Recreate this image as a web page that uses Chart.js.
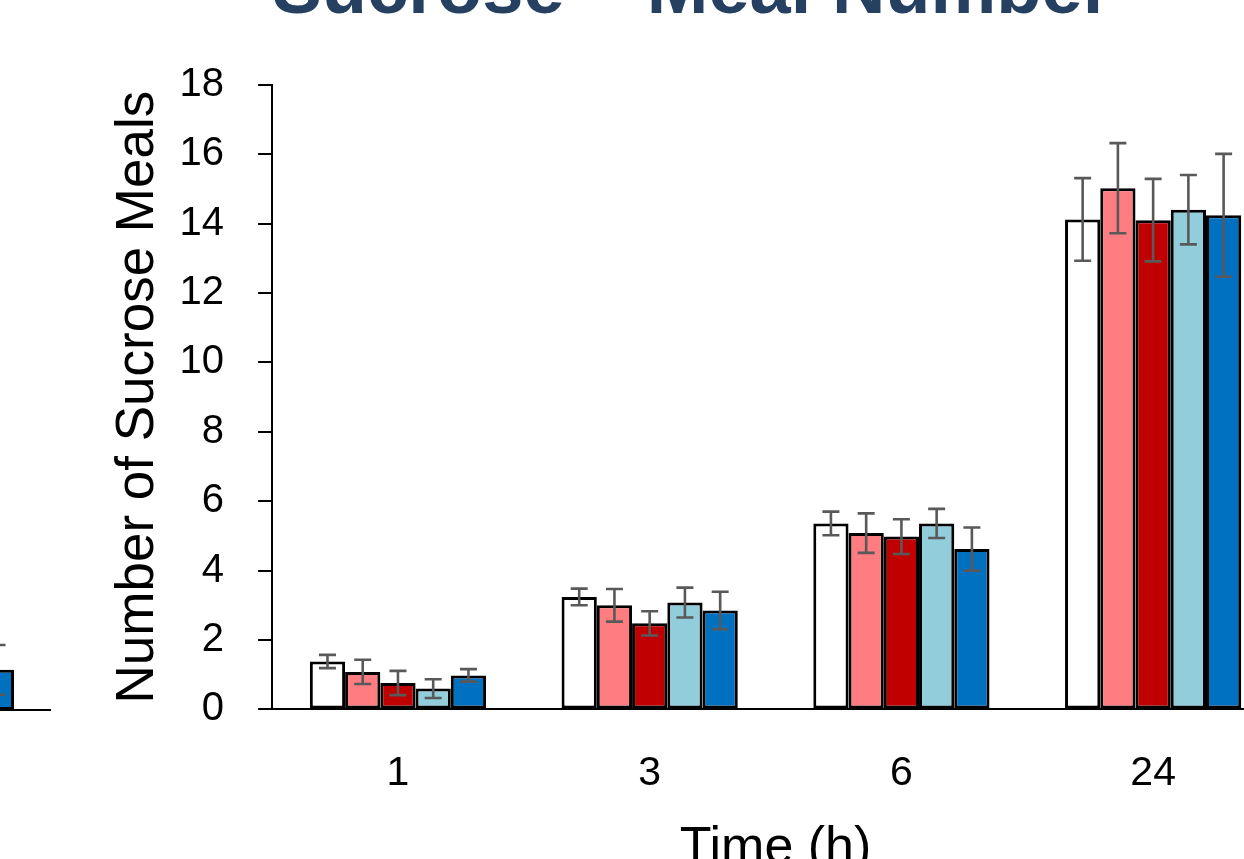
<!DOCTYPE html>
<html>
<head>
<meta charset="utf-8">
<script src="https://cdn.jsdelivr.net/npm/chart.js@4.4.1/dist/chart.umd.min.js"></script>
<style>
    html, body { margin: 0; padding: 0; background: #fff; overflow: hidden; width: 1244px; height: 859px; }
    #mainBox { position: absolute; left: 0; top: -70px; }
    #sideBox { position: absolute; left: -57px; top: 87px; }
</style>
</head>
<body>
<div id="sideBox"><canvas id="charSide" width="108" height="625"></canvas></div>
<div id="mainBox"><canvas id="charMeals" width="1320" height="1000"></canvas></div>
<script>
const categories = ['1', '3', '6', '24'];
const seriesNames = ['Series 1', 'Series 2', 'Series 3', 'Series 4', 'Series 5'];
const seriesColors = ['#FFFFFF', '#FF7C80', '#C00000', '#92CDDC', '#0070C0'];

const mealsS1 = [1.38, 3.24, 5.36, 14.12];
const mealsS2 = [1.08, 3.0, 5.08, 15.02];
const mealsS3 = [0.76, 2.48, 4.98, 14.1];
const mealsS4 = [0.6, 3.08, 5.36, 14.4];
const mealsS5 = [0.98, 2.85, 4.62, 14.24];

const errS1 = [0.19, 0.24, 0.34, 1.19];
const errS2 = [0.35, 0.47, 0.57, 1.3];
const errS3 = [0.35, 0.35, 0.5, 1.19];
const errS4 = [0.27, 0.43, 0.42, 1.0];
const errS5 = [0.18, 0.54, 0.62, 1.77];

const yTicks = [0, 2, 4, 6, 8, 10, 12, 14, 16, 18];

// tail of the neighbouring panel, only its last bar shows
const sideCategories = ['24'];
const sideValues = [1.16];
const sideErrors = [0.72];

const FONT = '"Liberation Sans", Arial, sans-serif';

const errorBars = {
    id: 'errorBars',
    afterDatasetsDraw(chart) {
        const ctx = chart.ctx;
        const y = chart.scales.y;
        ctx.save();
        ctx.strokeStyle = '#595959';
        ctx.lineWidth = 2.6;
        chart.data.datasets.forEach((ds, i) => {
            const meta = chart.getDatasetMeta(i);
            meta.data.forEach((bar, j) => {
                const v = ds.data[j];
                const e = ds.errors[j];
                const top = y.getPixelForValue(v + e);
                const bot = y.getPixelForValue(v - e);
                const cap = 8.5;
                ctx.beginPath();
                ctx.moveTo(bar.x, top);
                ctx.lineTo(bar.x, bot);
                ctx.moveTo(bar.x - cap, top);
                ctx.lineTo(bar.x + cap, top);
                ctx.moveTo(bar.x - cap, bot);
                ctx.lineTo(bar.x + cap, bot);
                ctx.stroke();
            });
        });
        ctx.restore();
    }
};

const allValues = [mealsS1, mealsS2, mealsS3, mealsS4, mealsS5];
const allErrors = [errS1, errS2, errS3, errS4, errS5];

const datasets = allValues.map((vals, i) => {
    return {
        label: seriesNames[i],
        data: vals,
        errors: allErrors[i],
        backgroundColor: seriesColors[i],
        borderColor: '#000000',
        borderWidth: 3,
        borderSkipped: false,
        barPercentage: 1.0,
        categoryPercentage: 0.7
    };
});

const ctxMeals = document.getElementById('charMeals');
const charMeals = new Chart(ctxMeals, {
    type: 'bar',
    data: {
        labels: categories,
        datasets: datasets
    },
    plugins: [errorBars],
    options: {
        responsive: false,
        animation: false,
        layout: {
            padding: { left: 105, right: 41, top: 18, bottom: 50 }
        },
        plugins: {
            legend: { display: false },
            tooltip: { enabled: false },
            title: {
                display: true,
                text: 'Sucrose – Meal Number',
                color: '#254061',
                font: { family: FONT, size: 74, weight: 'bold', lineHeight: 1.2 },
                padding: { top: 0, bottom: 48 }
            }
        },
        scales: {
            x: {
                grid: { display: false, drawTicks: false },
                border: { display: true, color: '#000000', width: 2 },
                ticks: {
                    color: '#000000',
                    padding: 40,
                    font: { family: FONT, size: 41 }
                },
                title: {
                    display: true,
                    text: 'Time (h)',
                    color: '#000000',
                    font: { family: FONT, size: 52 },
                    padding: { top: -21, bottom: 0 }
                }
            },
            y: {
                min: 0,
                max: 18,
                afterBuildTicks: (scale) => {
                    scale.ticks = yTicks.map(v => ({ value: v }));
                },
                grid: {
                    drawOnChartArea: false,
                    drawTicks: true,
                    tickLength: 14,
                    color: '#000000',
                    lineWidth: 2
                },
                border: { display: true, color: '#000000', width: 2 },
                ticks: {
                    color: '#000000',
                    padding: 34,
                    font: { family: FONT, size: 40 }
                },
                title: {
                    display: true,
                    text: 'Number of Sucrose Meals',
                    color: '#000000',
                    font: { family: FONT, size: 53 },
                    padding: { top: 2, bottom: -25 }
                }
            }
        }
    }
});

const ctxSide = document.getElementById('charSide');
const charSide = new Chart(ctxSide, {
    type: 'bar',
    data: {
        labels: sideCategories,
        datasets: [{
            label: 'Series 5',
            data: sideValues,
            errors: sideErrors,
            backgroundColor: '#0070C0',
            borderColor: '#000000',
            borderWidth: 3,
            borderSkipped: false,
            barPercentage: 0.315,
            categoryPercentage: 1.0
        }]
    },
    plugins: [errorBars],
    options: {
        responsive: false,
        animation: false,
        layout: { padding: { left: 0, right: 0, top: 0, bottom: 2 } },
        plugins: {
            legend: { display: false },
            tooltip: { enabled: false },
            title: { display: false }
        },
        scales: {
            x: {
                grid: { display: false, drawTicks: false },
                border: { display: true, color: '#000000', width: 2 },
                ticks: { display: false },
                afterFit: (scale) => { scale.height = 0; }
            },
            y: {
                display: false,
                min: 0,
                max: 18
            }
        }
    }
});
</script>
</body>
</html>
